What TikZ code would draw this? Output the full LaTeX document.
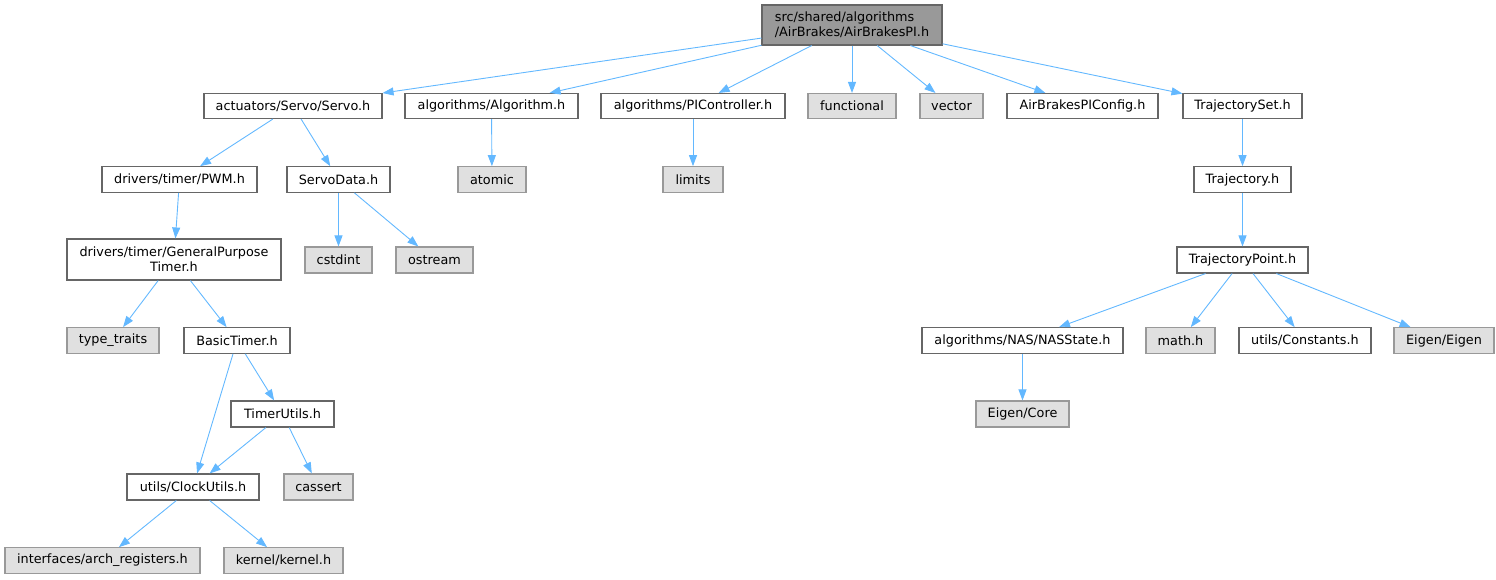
\documentclass[tikz,border=0pt]{standalone}
\usepackage{fontspec}
\setmainfont{DejaVu Sans}
\usetikzlibrary{arrows.meta}
\definecolor{edgeblue}{HTML}{63B8FF}
\definecolor{bordergrey}{HTML}{666666}
\definecolor{rootfill}{HTML}{999999}
\definecolor{extfill}{HTML}{E0E0E0}
\definecolor{extborder}{HTML}{999999}
\tikzset{
  base/.style={rectangle, inner sep=0pt, line width=1.1pt, font=\fontsize{12.8}{15}\selectfont},
  filebox/.style={base, draw=bordergrey, fill=white},
  extbox/.style={base, draw=extborder, fill=extfill},
  rootbox/.style={base, draw=bordergrey, fill=rootfill},
  dep/.style={draw=edgeblue, line width=0.9pt, -{Triangle[length=11pt,width=8pt]}},
  sz/.style 2 args={minimum width=#1pt, minimum height=#2pt}
}
\begin{document}
\begin{tikzpicture}[x=1pt,y=-1pt]
\useasboundingbox (0,0) rectangle (1496,579);
% root
\node[rootbox, sz={180}{40}, align=left] (root) at (852,25) {src/shared/algorithms\\/AirBrakes/AirBrakesPI.h};
% row 1
\node[filebox, sz={178}{25}] (servo) at (293,106) {actuators/Servo/Servo.h};
\node[filebox, sz={173}{25}] (algo) at (491.5,106) {algorithms/Algorithm.h};
\node[filebox, sz={184}{25}] (pic) at (693,106) {algorithms/PIController.h};
\node[extbox, sz={88}{25}] (functional) at (852,106) {functional};
\node[extbox, sz={63}{25}] (vector) at (951.5,106) {vector};
\node[filebox, sz={151}{25}] (config) at (1082.5,106) {AirBrakesPIConfig.h};
\node[filebox, sz={119}{25}] (trajset) at (1242.5,106) {TrajectorySet.h};
% row 2
\node[filebox, sz={155}{25.6}] (pwm) at (179.5,179.5) {drivers/timer/PWM.h};
\node[filebox, sz={103}{25.6}] (servodata) at (338.5,179.5) {ServoData.h};
\node[extbox, sz={68}{25.6}] (atomic) at (492,179.5) {atomic};
\node[extbox, sz={60}{25.6}] (limits) at (693,179.5) {limits};
\node[filebox, sz={97}{25.6}] (traj) at (1242.5,179.5) {Trajectory.h};
% row 3
\node[filebox, sz={214}{41}, align=center] (gpt) at (174,259.5) {drivers/timer/GeneralPurpose\\Timer.h};
\node[extbox, sz={67}{26}] (cstdint) at (338.5,260) {cstdint};
\node[extbox, sz={77}{26}] (ostream) at (434.5,260) {ostream};
\node[filebox, sz={131}{26}] (tpoint) at (1242.5,260) {TrajectoryPoint.h};
% row 4
\node[extbox, sz={92}{25.6}] (typetraits) at (113,340.5) {type\_traits};
\node[filebox, sz={106}{25.6}] (basictimer) at (237,340.5) {BasicTimer.h};
\node[filebox, sz={201}{25.6}] (nasstate) at (1022.5,340.5) {algorithms/NAS/NASState.h};
\node[extbox, sz={69}{25.6}] (math) at (1180.5,340.5) {math.h};
\node[filebox, sz={132}{25.6}] (constants) at (1305,340.5) {utils/Constants.h};
\node[extbox, sz={100}{25.6}] (eigen) at (1444,340.5) {Eigen/Eigen};
% row 5
\node[filebox, sz={103}{26}] (timerutils) at (282.5,414) {TimerUtils.h};
\node[extbox, sz={93}{26}] (eigencore) at (1022.5,414) {Eigen/Core};
% row 6
\node[filebox, sz={132}{26}] (clockutils) at (193,487) {utils/ClockUtils.h};
\node[extbox, sz={69}{26}] (cassert) at (318.5,487) {cassert};
% row 7
\node[extbox, sz={195}{25.6}] (arch) at (102.5,560.5) {interfaces/arch\_registers.h};
\node[extbox, sz={119}{25.6}] (kernel) at (283.5,560.5) {kernel/kernel.h};
% edges
\foreach \t in {servo,algo,pic,functional,vector,config,trajset}
  \draw[dep] (root) -- (\t);
\draw[dep] (servo) -- (pwm);
\draw[dep] (servo) -- (servodata);
\draw[dep] (algo) -- (atomic);
\draw[dep] (pic) -- (limits);
\draw[dep] (trajset) -- (traj);
\draw[dep] (traj) -- (tpoint);
\draw[dep] (pwm) -- (gpt);
\draw[dep] (servodata) -- (cstdint);
\draw[dep] (servodata) -- (ostream);
\draw[dep] (gpt) -- (typetraits);
\draw[dep] (gpt) -- (basictimer);
\draw[dep] (basictimer) -- (clockutils);
\draw[dep] (basictimer) -- (timerutils);
\draw[dep] (timerutils) -- (clockutils);
\draw[dep] (timerutils) -- (cassert);
\draw[dep] (clockutils) -- (arch);
\draw[dep] (clockutils) -- (kernel);
\draw[dep] (tpoint) -- (nasstate);
\draw[dep] (tpoint) -- (math);
\draw[dep] (tpoint) -- (constants);
\draw[dep] (tpoint) -- (eigen);
\draw[dep] (nasstate) -- (eigencore);
\end{tikzpicture}
\end{document}
